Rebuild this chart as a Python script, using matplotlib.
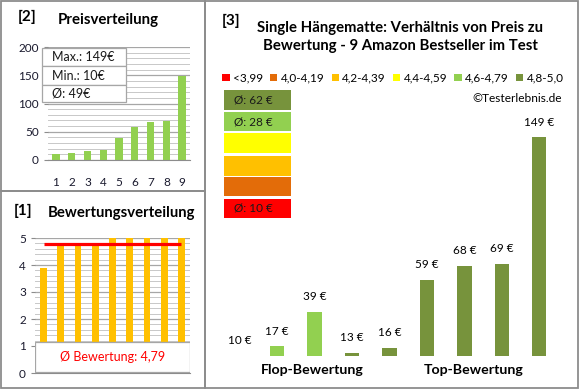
import matplotlib
matplotlib.use("Agg")
import matplotlib.pyplot as plt
from matplotlib.patches import Rectangle
import numpy as np

plt.rcParams['font.family'] = ['Lato', 'DejaVu Sans']

# Daten
preise_sortiert = [10, 13, 16, 17, 39, 59, 68, 69, 149]
bewertungen = [3.9, 4.7, 4.7, 4.8, 5.0, 5.0, 5.0, 5.0, 5.0]
preise_nach_bewertung = [10, 17, 39, 13, 16, 59, 68, 69, 149]
kategorien = ['<3,99', '4,0-4,19', '4,2-4,39', '4,4-4,59', '4,6-4,79', '4,8-5,0']
kategorie_grenzen = [0, 4.0, 4.2, 4.4, 4.6, 4.8, 5.01]
farben = ['#FF0000', '#E36C09', '#FFC000', '#FFFF00', '#92D050', '#77933C']
titel = 'Single Hängematte: Verhältnis von Preis zu\nBewertung - 9 Amazon Bestseller im Test'

W, H = 580, 390
fig = plt.figure(figsize=(W / 100, H / 100), dpi=100)


def px(x0, y0, x1, y1):
    # Pixel-Koordinaten -> Figurenkoordinaten
    return [x0 / W, 1 - y1 / H, (x1 - x0) / W, (y1 - y0) / H]


def fx(x):
    return x / W


def fy(y):
    return 1 - y / H


rahmen = '#8C8C8C'
for (x0, y0, x1, y1) in [(1, 1, 205, 191), (1, 191, 205, 388), (205, 1, 578, 388)]:
    fig.add_artist(Rectangle((fx(x0), fy(y1)), fx(x1) - fx(x0), fy(y0) - fy(y1),
                             transform=fig.transFigure, fill=False, ec=rahmen, lw=1.3))

tick_farbe = '#1A1A2E'


def gitter(ax, major, minor):
    ax.set_yticks(major)
    ax.set_yticks(minor, minor=True)
    ax.grid(axis='y', which='major', color='#A6A6A6', lw=0.9)
    ax.grid(axis='y', which='minor', color='#C8C8C8', lw=0.7)
    ax.set_axisbelow(True)
    for s in ['top', 'right', 'left']:
        ax.spines[s].set_visible(False)
    ax.spines['bottom'].set_color('#8C8C8C')
    ax.tick_params(axis='y', which='minor', length=0)
    ax.tick_params(axis='y', which='major', length=3, color='#8C8C8C', labelsize=8.5, labelcolor=tick_farbe)


# [2] Preisverteilung
ax2 = fig.add_axes(px(48, 47, 190, 160))
x = np.arange(len(preise_sortiert))
ax2.bar(x, preise_sortiert, width=0.47, color='#92D050')
ax2.set_xlim(-0.5, 8.5)
ax2.set_ylim(0, 200)
gitter(ax2, np.arange(0, 201, 50), np.arange(0, 201, 10))
ax2.set_xticks(x, [str(i + 1) for i in x])
ax2.tick_params(axis='x', length=0, pad=12, labelsize=8.5, labelcolor=tick_farbe)
fig.text(fx(18), fy(17), '[2]', fontsize=11, fontweight='bold', va='center')
fig.text(fx(58), fy(20), 'Preisverteilung', fontsize=10.8, fontweight='bold', va='center')

stat_zeilen = ['Max.: %d€' % max(preise_sortiert),
               'Min.: %d€' % min(preise_sortiert),
               'Ø: %d€' % round(np.mean(preise_sortiert))]
zeilen_y = [(48, 66), (66, 85), (85, 102)]
for txt, (y0, y1) in zip(stat_zeilen, zeilen_y):
    fig.add_artist(Rectangle((fx(42), fy(y1)), fx(126) - fx(42), fy(y0) - fy(y1),
                             transform=fig.transFigure, fc='white', ec='#A6A6A6', lw=0.9))
    fig.text(fx(52), fy((y0 + y1) / 2), txt, fontsize=9, va='center', color='#1A1A1A')

# [1] Bewertungsverteilung
ax1 = fig.add_axes(px(35, 238, 190, 373))
ax1.bar(x, bewertungen, width=0.39, color='#FFC000')
ax1.set_xlim(-0.5, 8.5)
ax1.set_ylim(0, 5)
gitter(ax1, np.arange(0, 6), np.arange(0, 5.01, 0.2))
ax1.set_xticks([])
mittel = np.mean(bewertungen)
ax1.plot([0, 8], [mittel, mittel], color='#FF0000', lw=2.3, solid_capstyle='butt')
ax1.add_patch(Rectangle((0, 0.005), 1, 0.225, transform=ax1.transAxes, fc='white',
                        ec='#A6A6A6', lw=0.9, zorder=5))
ax1.text(0.5, 0.115, 'Ø Bewertung: ' + ('%.2f' % mittel).replace('.', ','),
         transform=ax1.transAxes, ha='center', va='center', color='#FF0000',
         fontsize=9, zorder=6)
fig.text(fx(14), fy(211), '[1]', fontsize=11, fontweight='bold', va='center')
fig.text(fx(48), fy(213), 'Bewertungsverteilung', fontsize=10.7, fontweight='bold', va='center')

# [3] Preis zu Bewertung
fig.text(fx(222), fy(21), '[3]', fontsize=11, fontweight='bold', va='center')
fig.text(fx(400), fy(37), titel, fontsize=10.7, fontweight='bold', ha='center', va='center',
         linespacing=1.4)

bar_farben = [farben[np.searchsorted(kategorie_grenzen, b, side='right') - 1] for b in bewertungen]

ax3 = fig.add_axes(px(221, 120, 558, 356))
y_min = 11
ax3.bar(x, np.array(preise_nach_bewertung) - y_min, bottom=y_min, width=0.38, color=bar_farben)
ax3.set_xlim(-0.5, 8.5)
ax3.set_ylim(y_min, 160)
ax3.axis('off')
for i, p in enumerate(preise_nach_bewertung):
    ax3.annotate('%d €' % p, (i, max(p, y_min)), xytext=(0, 7), textcoords='offset points',
                 ha='center', va='bottom', fontsize=8.5)
fig.text(fx(312), fy(370), 'Flop-Bewertung', fontsize=10.2, fontweight='bold', ha='center', va='center')
fig.text(fx(474), fy(370), 'Top-Bewertung', fontsize=10.2, fontweight='bold', ha='center', va='center')

handles = [Rectangle((0, 0), 1, 1, fc=c) for c in farben]
fig.legend(handles, kategorien, loc='center', bbox_to_anchor=(fx(393), fy(78)), ncol=6,
           frameon=False, fontsize=8.5, handlelength=0.6, handleheight=0.6,
           handletextpad=0.3, columnspacing=0.6)
fig.text(fx(562), fy(98), '©Testerlebnis.de', fontsize=8.6, ha='right', va='center')

# Farbkästen mit Durchschnittspreis je Kategorie
kasten_y = [(90, 110), (112, 131), (133, 153), (156, 176), (177, 196), (199, 218)]
for k, (y0, y1) in zip(range(5, -1, -1), kasten_y):
    fig.add_artist(Rectangle((fx(224), fy(y1)), fx(291) - fx(224), fy(y0) - fy(y1),
                             transform=fig.transFigure, fc=farben[k], ec='none'))
    werte = [p for p, c in zip(preise_nach_bewertung, bar_farben) if c == farben[k]]
    if werte:
        fig.text(fx(234), fy((y0 + y1) / 2), 'Ø: %d €' % round(np.mean(werte)),
                 fontsize=8.5, va='center', color='#1A1A1A')

fig.savefig('out.png', dpi=100, facecolor='white')
